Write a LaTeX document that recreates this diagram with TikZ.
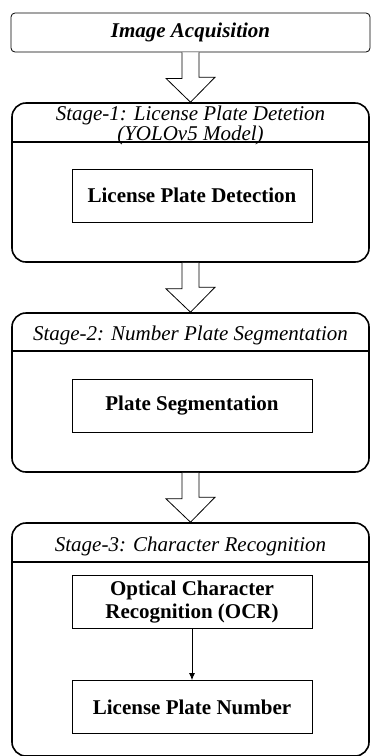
\documentclass[tikz,border=0pt]{standalone}
\usepackage{fontspec}
\setmainfont{Liberation Serif}
\usepackage{tikz}
\usetikzlibrary{arrows.meta}

\begin{document}
\begin{tikzpicture}[x=1pt,y=-1pt,
  stagebox/.style={draw,line width=1.6pt,rounded corners=14pt,minimum width=357pt},
  innerbox/.style={draw,line width=0.8pt,minimum width=240pt,minimum height=53pt,align=center,
    font=\fontsize{21}{23}\selectfont\bfseries},
  titletext/.style={align=center,font=\fontsize{21}{19}\selectfont\itshape},
  bigarrow/.style={draw,line width=0.8pt,fill=white}]
\useasboundingbox (0,0) rectangle (371,756);
\node [draw,line width=0.8pt,rounded corners=4pt,minimum width=359pt,minimum height=39pt,
  font=\fontsize{21}{23}\selectfont\bfseries\itshape] (acq) at (190.5,32.5) {Image Acquisition};
\node [stagebox,minimum height=159pt] (st1) at (190.5,182.5) {};
\node [stagebox,minimum height=159pt] (st2) at (190.5,392.5) {};
\node [stagebox,minimum height=233pt] (st3) at (190.5,639.5) {};
\draw [line width=1.6pt] ([yshift=-40pt]st1.north west) -- ([yshift=-40pt]st1.north east);
\draw [line width=1.6pt] ([yshift=-39pt]st2.north west) -- ([yshift=-39pt]st2.north east);
\draw [line width=1.6pt] ([yshift=-40pt]st3.north west) -- ([yshift=-40pt]st3.north east);
\node [titletext] (t1) at (190.5,125) {Stage-1: License Plate Detetion\\(YOLOv5 Model)};
\node [titletext] (t2) at (190.5,335) {Stage-2: Number Plate Segmentation};
\node [titletext] (t3) at (190.5,546) {Stage-3: Character Recognition};
\node [innerbox] (det) at (192,195.5) {License Plate Detection};
\node [innerbox] (seg) at (192,405.5) {Plate Segmentation};
\node [innerbox] (ocr) at (192,602) {Optical Character\\Recognition (OCR)};
\node [innerbox] (num) at (192,707) {License Plate Number};
\draw [line width=0.8pt,-{Latex[length=7pt,width=6pt]}] (ocr) -- (num);
\draw [bigarrow] ([xshift=-8.5pt]acq.south) -- ++(0,26) -- ++(-16,0) -- (st1.north) -- ++(24.5,-25) -- ++(-16,0) -- ([xshift=8.5pt]acq.south);
\draw [bigarrow] ([xshift=-8.5pt]st1.south) -- ++(0,26) -- ++(-16,0) -- (st2.north) -- ++(24.5,-25) -- ++(-16,0) -- ([xshift=8.5pt]st1.south);
\draw [bigarrow] ([xshift=-8.5pt]st2.south) -- ++(0,26) -- ++(-16,0) -- (st3.north) -- ++(24.5,-25) -- ++(-16,0) -- ([xshift=8.5pt]st2.south);
\end{tikzpicture}
\end{document}
